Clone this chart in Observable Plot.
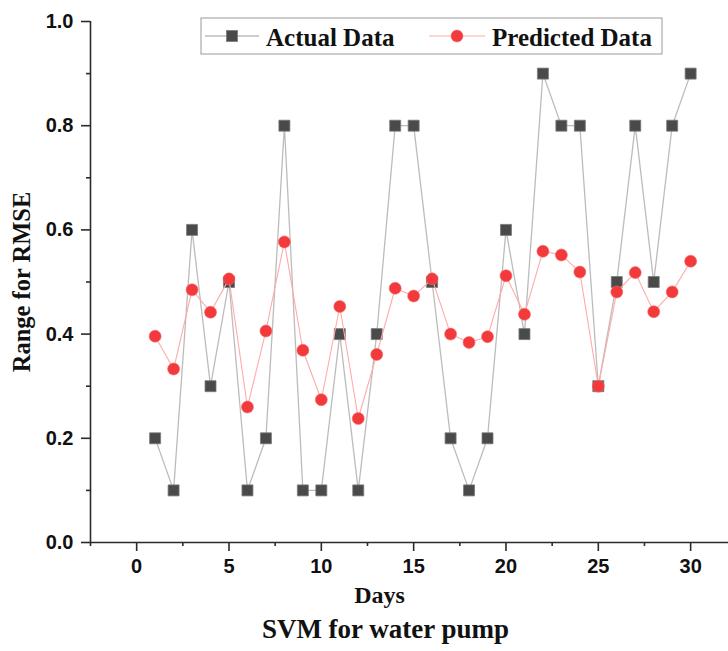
<!DOCTYPE html>
<html>
<head>
<meta charset="utf-8">
<script src="https://cdn.jsdelivr.net/npm/d3@7"></script>
<script src="https://cdn.jsdelivr.net/npm/@observablehq/plot@0.6"></script>
<style>
  html, body { margin: 0; padding: 0; background: #fff; }
  #chart svg { display: block; }
</style>
</head>
<body>
<div id="chart"></div>
<script>
const days = [1,2,3,4,5,6,7,8,9,10,11,12,13,14,15,16,17,18,19,20,21,22,23,24,25,26,27,28,29,30];
const actual = [0.2,0.1,0.6,0.3,0.5,0.1,0.2,0.8,0.1,0.1,0.4,0.1,0.4,0.8,0.8,0.5,0.2,0.1,0.2,0.6,0.4,0.9,0.8,0.8,0.3,0.5,0.8,0.5,0.8,0.9];
const predicted = [0.396,0.333,0.485,0.442,0.506,0.260,0.406,0.577,0.369,0.274,0.453,0.238,0.361,0.488,0.473,0.506,0.400,0.384,0.395,0.512,0.438,0.559,0.552,0.519,0.300,0.481,0.518,0.443,0.481,0.540];
const xTicks = [0,5,10,15,20,25,30];
const xMinorTicks = [-2.5,2.5,7.5,12.5,17.5,22.5,27.5];
const yTicks = [0,0.2,0.4,0.6,0.8,1.0];
const yMinorTicks = [0.1,0.3,0.5,0.7,0.9];
const seriesNames = ["Actual Data","Predicted Data"];
const xLabel = "Days";
const yLabel = "Range for RMSE";
const title = "SVM for water pump";

const rows = days.map((d,i) => ({day: d, actual: actual[i], predicted: predicted[i]}));
const xMin = -2.5, xMax = 32.05;
const serif = "Liberation Serif";
const sans = "Liberation Sans";
const axisColor = "#2b2b2b";

const chart = Plot.plot({
  width: 728,
  height: 651,
  marginLeft: 90,
  marginRight: 0,
  marginTop: 21,
  marginBottom: 109,
  style: {fontFamily: sans, background: "#fff"},
  x: {domain: [xMin, xMax], label: null},
  y: {domain: [0, 1], label: null},
  marks: [
    Plot.line(rows, {x: "day", y: "actual", stroke: "#bcbcbc", strokeWidth: 1.3}),
    Plot.dot(rows, {x: "day", y: "actual", symbol: "square", r: 6.2, fill: "#4a4a4a", stroke: "#7a7a7a", strokeWidth: 0.8}),
    Plot.line(rows, {x: "day", y: "predicted", stroke: "#ffaaaa", strokeWidth: 1.1}),
    Plot.dot(rows, {x: "day", y: "predicted", symbol: "circle", r: 6, fill: "#f23a3c", stroke: "#f56a6a", strokeWidth: 0.6}),
    Plot.ruleX([xMin], {stroke: axisColor, strokeWidth: 1.6}),
    Plot.ruleY([0], {stroke: axisColor, strokeWidth: 1.6}),
    Plot.axisY(yTicks, {anchor: "left", tickSize: 9, tickPadding: 8, tickFormat: d => d.toFixed(1), fontSize: 20, fontWeight: "bold", stroke: axisColor, strokeWidth: 1.6, fill: "#111", label: null}),
    Plot.axisY(yMinorTicks, {anchor: "left", tickSize: 4, tickFormat: () => "", stroke: axisColor, strokeWidth: 1.6, label: null}),
    Plot.axisX(xTicks, {anchor: "bottom", tickSize: 9, tickPadding: 7, tickFormat: d => String(d), fontSize: 20, fontWeight: "bold", stroke: axisColor, strokeWidth: 1.6, fill: "#111", label: null}),
    Plot.axisX(xMinorTicks, {anchor: "bottom", tickSize: 4, tickFormat: () => "", stroke: axisColor, strokeWidth: 1.6, label: null}),
    Plot.text([xLabel], {frameAnchor: "bottom", dx: -30, dy: 60, fontFamily: serif, fontWeight: "bold", fontSize: 24, fill: "#111"}),
    Plot.text([yLabel], {frameAnchor: "left", textAnchor: "middle", dx: -68, rotate: -90, fontFamily: serif, fontWeight: "bold", fontSize: 24.5, fill: "#111"}),
    Plot.text([title], {frameAnchor: "bottom", dx: -24, dy: 95, fontFamily: serif, fontWeight: "bold", fontSize: 27, fill: "#111"})
  ]
});
document.getElementById("chart").appendChild(chart);

// Legend inside the plot area
const svg = d3.select(chart);
const lg = svg.append("g").attr("class", "legend").attr("text-anchor", "start");
lg.append("rect").attr("x", 201).attr("y", 18).attr("width", 461).attr("height", 36)
  .attr("fill", "#fff").attr("stroke", "#9a9a9a").attr("stroke-width", 1);
lg.append("line").attr("x1", 205).attr("x2", 259).attr("y1", 36).attr("y2", 36)
  .attr("stroke", "#bcbcbc").attr("stroke-width", 1.3);
lg.append("rect").attr("x", 226.5).attr("y", 30.5).attr("width", 11).attr("height", 11)
  .attr("fill", "#4a4a4a").attr("stroke", "#7a7a7a").attr("stroke-width", 0.8);
lg.append("text").attr("x", 266).attr("y", 46).text(seriesNames[0])
  .attr("font-family", serif).attr("font-weight", "bold").attr("font-size", 25).attr("fill", "#111");
lg.append("line").attr("x1", 429).attr("x2", 485).attr("y1", 36).attr("y2", 36)
  .attr("stroke", "#ffaaaa").attr("stroke-width", 1.1);
lg.append("circle").attr("cx", 457).attr("cy", 36).attr("r", 6)
  .attr("fill", "#f23a3c").attr("stroke", "#f56a6a").attr("stroke-width", 0.6);
lg.append("text").attr("x", 492).attr("y", 46).text(seriesNames[1])
  .attr("font-family", serif).attr("font-weight", "bold").attr("font-size", 25).attr("fill", "#111");
</script>
</body>
</html>
